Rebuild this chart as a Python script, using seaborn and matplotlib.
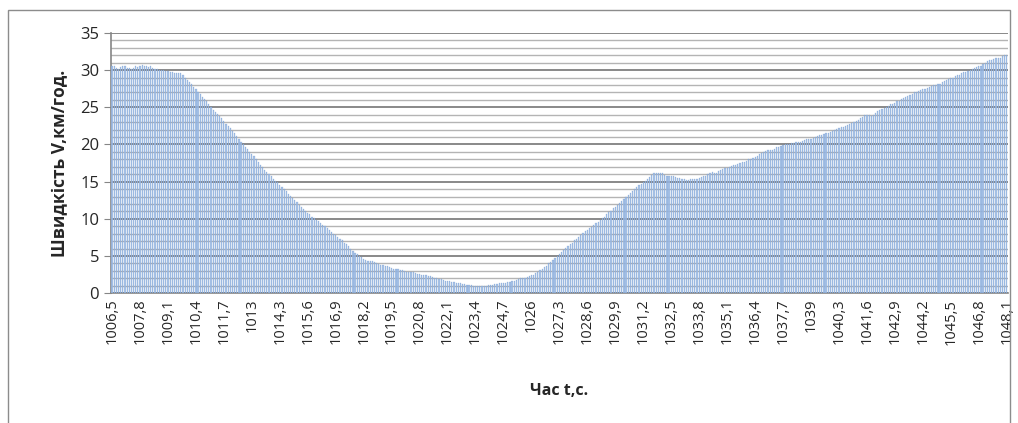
import numpy as np
import pandas as pd
import matplotlib
matplotlib.use("Agg")
import matplotlib.pyplot as plt
import seaborn as sns
from matplotlib.patches import Rectangle

# time axis: 1006,5 ... 1048,1 s, step 0.1
t_start, t_step, n_bars = 1006.5, 0.1, 417
time_s = np.round(t_start + t_step * np.arange(n_bars), 1)

# speed V, km/h (one row per 13 bars)
speed = [
    30.6, 30.5, 30.3, 30.2, 30.4, 30.6, 30.5, 30.3, 30.3, 30.1, 30.3, 30.5, 30.4,
    30.5, 30.7, 30.6, 30.6, 30.4, 30.5, 30.3, 30.2, 30.1, 30.0, 30.0, 30.0, 29.9,
    29.9, 29.8, 29.7, 29.6, 29.6, 29.6, 29.6, 29.3, 29.0, 28.7, 28.4, 28.1, 27.8,
    27.4, 27.1, 26.8, 26.4, 26.1, 25.8, 25.5, 25.1, 24.7, 24.4, 24.1, 23.8, 23.5,
    23.2, 22.8, 22.5, 22.2, 21.8, 21.5, 21.1, 20.8, 20.4, 20.1, 19.7, 19.4, 19.0,
    18.7, 18.4, 18.0, 17.7, 17.3, 17.0, 16.6, 16.3, 16.0, 15.7, 15.4, 15.1, 14.9,
    14.6, 14.3, 14.0, 13.7, 13.4, 13.1, 12.8, 12.5, 12.2, 11.9, 11.6, 11.3, 11.0,
    10.8, 10.6, 10.3, 10.1, 9.9, 9.7, 9.4, 9.2, 9.0, 8.7, 8.5, 8.2, 8.0,
    7.8, 7.6, 7.3, 7.1, 6.8, 6.6, 6.3, 6.0, 5.7, 5.4, 5.2, 5.0, 4.8,
    4.6, 4.4, 4.3, 4.3, 4.3, 4.2, 4.0, 3.9, 3.8, 3.8, 3.7, 3.6, 3.5,
    3.4, 3.3, 3.3, 3.2, 3.1, 3.1, 3.0, 2.9, 2.9, 2.8, 2.8, 2.7, 2.6,
    2.6, 2.5, 2.5, 2.4, 2.3, 2.3, 2.2, 2.1, 2.0, 1.9, 1.9, 1.8, 1.7,
    1.7, 1.6, 1.5, 1.5, 1.4, 1.3, 1.3, 1.2, 1.2, 1.1, 1.1, 1.1, 1.0,
    1.0, 1.0, 1.0, 1.0, 1.0, 1.0, 1.1, 1.1, 1.1, 1.2, 1.2, 1.3, 1.3,
    1.4, 1.4, 1.5, 1.5, 1.6, 1.7, 1.8, 1.9, 2.0, 2.0, 2.1, 2.2, 2.3,
    2.4, 2.5, 2.7, 2.9, 3.1, 3.2, 3.5, 3.7, 4.0, 4.2, 4.5, 4.7, 5.0,
    5.2, 5.5, 5.8, 6.1, 6.3, 6.6, 6.8, 7.1, 7.3, 7.6, 7.8, 8.1, 8.3,
    8.5, 8.7, 8.9, 9.2, 9.4, 9.6, 9.9, 10.1, 10.3, 10.6, 10.9, 11.1, 11.4,
    11.6, 11.9, 12.1, 12.4, 12.7, 12.9, 13.2, 13.5, 13.8, 14.0, 14.3, 14.5, 14.7,
    14.9, 15.1, 15.4, 15.6, 15.9, 16.1, 16.2, 16.2, 16.2, 16.1, 15.9, 15.8, 15.8,
    15.7, 15.7, 15.6, 15.5, 15.5, 15.4, 15.3, 15.2, 15.2, 15.3, 15.3, 15.3, 15.4,
    15.5, 15.6, 15.7, 15.8, 16.0, 16.2, 16.3, 16.2, 16.2, 16.4, 16.5, 16.7, 16.8,
    16.9, 17.0, 17.1, 17.2, 17.3, 17.4, 17.5, 17.6, 17.7, 17.8, 18.0, 18.1, 18.2,
    18.3, 18.5, 18.7, 18.9, 19.0, 19.1, 19.2, 19.2, 19.3, 19.4, 19.6, 19.7, 19.8,
    19.9, 20.0, 20.0, 20.1, 20.2, 20.2, 20.3, 20.4, 20.4, 20.5, 20.6, 20.7, 20.7,
    20.8, 20.9, 21.0, 21.2, 21.3, 21.3, 21.4, 21.5, 21.6, 21.7, 21.8, 22.0, 22.1,
    22.2, 22.3, 22.4, 22.5, 22.6, 22.7, 22.9, 23.0, 23.2, 23.3, 23.5, 23.7, 23.9,
    24.0, 23.9, 23.8, 23.9, 24.2, 24.5, 24.6, 24.8, 24.9, 25.1, 25.2, 25.4, 25.5,
    25.6, 25.8, 25.9, 26.1, 26.2, 26.4, 26.5, 26.7, 26.8, 27.0, 27.1, 27.2, 27.3,
    27.4, 27.5, 27.6, 27.8, 27.9, 28.0, 28.0, 28.1, 28.2, 28.4, 28.5, 28.7, 28.8,
    28.9, 29.0, 29.2, 29.3, 29.4, 29.6, 29.7, 29.8, 29.9, 30.0, 30.1, 30.3, 30.4,
    30.5, 30.6, 30.8, 31.0, 31.2, 31.4, 31.4, 31.5, 31.6, 31.6, 31.6, 31.9, 32.0,
    32.0,
]

labels = [f"{t:g}".replace(".", ",") for t in time_s]
df = pd.DataFrame({"t": labels, "v": speed})

sns.set_style("white")
plt.rcParams["font.family"] = ["Open Sans", "DejaVu Sans"]

fig = plt.figure(figsize=(10.18, 4.23), dpi=100)
ax = fig.add_axes([0.109, 0.307, 0.881, 0.615])

sns.barplot(data=df, x="t", y="v", color="#9dbbe5", width=0.55,
            edgecolor="#5585c4", linewidth=0.15, saturation=1, alpha=0.85,
            ax=ax, zorder=3)

# Excel-style gridlines: major every 5, minor every 1
ax.set_ylim(0, 35)
ax.set_yticks(np.arange(0, 36, 5))
ax.set_yticks(np.arange(0, 36, 1), minor=True)
ax.grid(which="minor", axis="y", color="#b4b4b4", lw=1.0, zorder=0)
ax.grid(which="major", axis="y", color="#808080", lw=1.3, zorder=0)
ax.set_axisbelow(True)

ax.set_xlim(-0.5, n_bars - 0.5)
ax.set_xticks(range(0, n_bars, 13))
ax.set_xticklabels(labels[::13], rotation=90, fontsize=10.5)
ax.tick_params(axis="y", which="major", labelsize=12, length=5, color="#868686",
               direction="out", left=True)
ax.tick_params(axis="y", which="minor", length=0)
ax.tick_params(axis="x", length=0, pad=4)

for s in ["top", "right"]:
    ax.spines[s].set_visible(False)
for s in ["left", "bottom"]:
    ax.spines[s].set_color("#868686")
    ax.spines[s].set_linewidth(1.2)

ax.set_xlabel("Час t,с.", fontsize=11.5, fontweight="bold", labelpad=28)
ax.set_ylabel("Швидкість V,км/год.", fontsize=12.5, fontweight="bold", labelpad=8)

# chart frame
fig.patches.append(Rectangle((8 / 1018, -0.05), 1002 / 1018, 413 / 423 + 0.05,
                             transform=fig.transFigure, fill=False,
                             edgecolor="#8c8c8c", lw=1.0))

fig.savefig("out.png", dpi=100)
